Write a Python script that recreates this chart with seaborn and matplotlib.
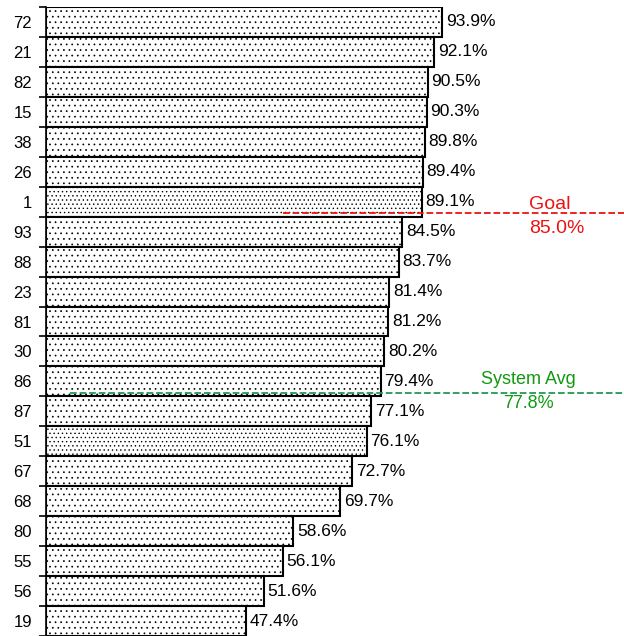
import matplotlib
matplotlib.use('Agg')
import matplotlib.pyplot as plt
import seaborn as sns
import numpy as np

sites = ['72', '21', '82', '15', '38', '26', '1', '93', '88', '23', '81',
         '30', '86', '87', '51', '67', '68', '80', '55', '56', '19']
rates = [93.9, 92.1, 90.5, 90.3, 89.8, 89.4, 89.1, 84.5, 83.7, 81.4, 81.2,
         80.2, 79.4, 77.1, 76.1, 72.7, 69.7, 58.6, 56.1, 51.6, 47.4]
highlight = ['1', '51']
goal = 85.0
system_avg = 77.8

sns.set_style('white')
plt.rcParams['font.family'] = ['Liberation Sans', 'DejaVu Sans']
plt.rcParams['text.color'] = 'black'
plt.rcParams['ytick.color'] = 'black'
plt.rcParams['ytick.labelcolor'] = 'black'
plt.rcParams['hatch.color'] = '#6a6a6a'
plt.rcParams['hatch.linewidth'] = 0.5

fig = plt.figure(figsize=(6.24, 6.36), dpi=100)
ax = fig.add_axes([46 / 624, 0, 1 - 46 / 624, 629 / 636])

sns.barplot(x=rates, y=sites, order=sites, orient='h', width=1.0,
            color='white', edgecolor='black', linewidth=1.5, ax=ax)

for patch, s in zip(ax.patches, sites):
    patch.set_facecolor('white')
    patch.set_hatch('....' if s in highlight else '...')

for i, v in enumerate(rates):
    ax.text(v + 0.9, i, f'{v:.1f}%', va='center', ha='left', fontsize=12.5)

# reference lines sit on the boundary where the ranking crosses each value
def boundary(val):
    idx = next(i for i, v in enumerate(rates) if v < val)
    return idx - 0.5 - 0.12

ax.plot([56.3, 137.1], [boundary(goal)] * 2, color='#ee1111', ls='--', lw=1.3)
ax.text(119.6, boundary(goal) - 0.3, 'Goal', color='#ee1111', fontsize=14, ha='center', va='center')
ax.text(121.2, boundary(goal) + 0.52, f'{goal:.1f}%', color='#ee1111', fontsize=14, ha='center', va='center')

ax.plot([5.7, 137.1], [boundary(system_avg)] * 2, color='#229955', ls='--', lw=1.3)
ax.text(114.4, boundary(system_avg) - 0.45, 'System Avg', color='#119911', fontsize=13, ha='center', va='center')
ax.text(114.4, boundary(system_avg) + 0.35, f'{system_avg:.1f}%', color='#119911', fontsize=13, ha='center', va='center')

ax.set_xlim(0, 137.1)
ax.set_ylim(-0.5 + 629 / 30, -0.5)
ax.set_xticks([])
ax.set_xlabel('')
ax.set_ylabel('')
for side in ['top', 'right', 'bottom']:
    ax.spines[side].set_visible(False)
ax.spines['left'].set_color('black')
ax.spines['left'].set_linewidth(1.2)

ax.set_yticks(range(len(sites)))
ax.set_yticklabels(sites, fontsize=12)
ax.tick_params(axis='y', which='major', length=0, pad=10)
ax.set_yticks(np.arange(-0.5, len(sites), 1.0), minor=True)
ax.tick_params(axis='y', which='minor', length=5, width=1.2, color='black', left=True)

fig.savefig('out.png', dpi=100)
